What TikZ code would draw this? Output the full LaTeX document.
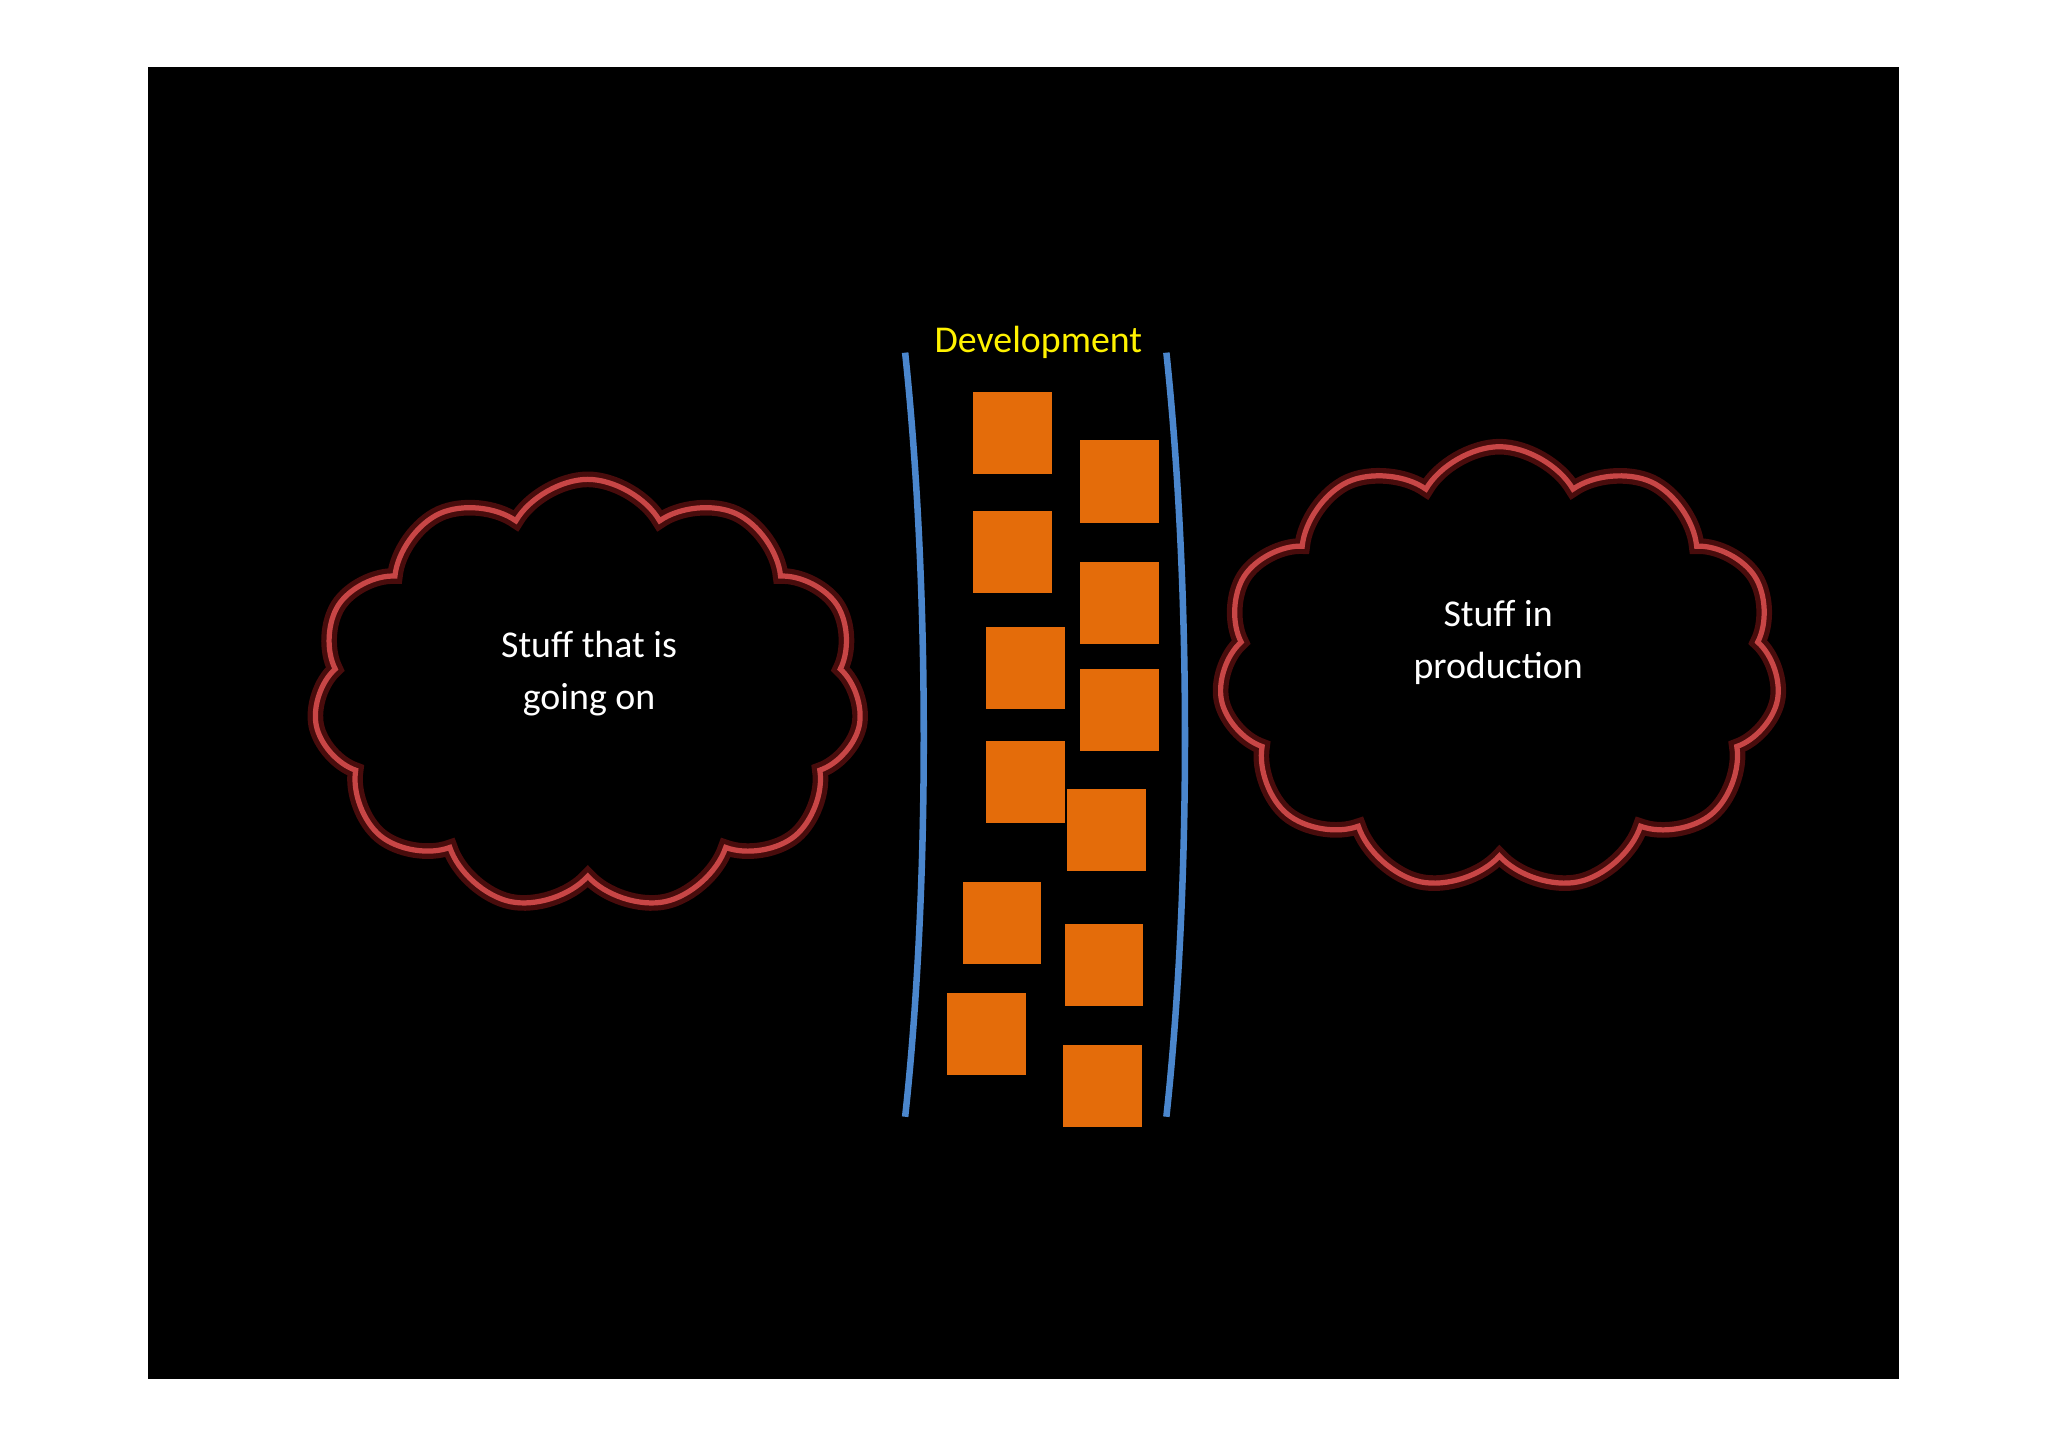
\documentclass[tikz,border=0pt]{standalone}
\usepackage{fontspec}
\setmainfont{Carlito}
\usetikzlibrary{shapes.symbols}
\definecolor{blu}{RGB}{74,134,205}
\definecolor{org}{RGB}{228,108,10}
\definecolor{cl}{RGB}{200,70,70}
\definecolor{glow}{RGB}{120,20,20}
\begin{document}
\begin{tikzpicture}[x=1pt,y=-1pt,
  sq/.style={fill=org,draw=none,minimum width=60pt,minimum height=63pt,inner sep=0,anchor=north west},
  rail/.style={draw=blu,line width=5pt},
  cloudglow/.style={cloud,cloud puffs=11,cloud puff arc=120,draw=glow,line width=12pt,opacity=0.6},
  cloudline/.style={cloud,cloud puffs=11,cloud puff arc=120,draw=cl,line width=4pt},
  lbl/.style={text=white,font=\fontsize{29}{40}\selectfont,align=center}]
\useasboundingbox (0,0) rectangle (1568,1108);
\fill[white] (0,0) rectangle (1568,1108);
\fill[black] (113,51) rectangle (1454,1056);
% clouds
\node[cloudglow,minimum width=420pt,minimum height=330pt] (lcg) at (450,532) {};
\node[cloudline,minimum width=420pt,minimum height=330pt] (lc) at (450,532) {};
\node[cloudglow,minimum width=430pt,minimum height=340pt] (rcg) at (1148,512) {};
\node[cloudline,minimum width=430pt,minimum height=340pt] (rc) at (1148,512) {};
\node[lbl] (lt) at (451,516) {Stuff that is\\going on};
\node[lbl] (rt) at (1147,492) {Stuff in\\production};
% rails
\coordinate (l1) at (693,270); \coordinate (l2) at (693,855);
\coordinate (r1) at (893,270); \coordinate (r2) at (893,855);
\draw[rail] (l1) .. controls (712,450) and (712,680) .. (l2);
\draw[rail] (r1) .. controls (912,450) and (912,680) .. (r2);
\node[text=yellow,font=\fontsize{29}{34}\selectfont] (dev) at (795,262) {Development};
% squares
\foreach \x/\y [count=\i] in {745/300,827/337,745/391,827/430,755/480,827/512,755/567,817/604,737/675,815/707,725/760,814/800}
  \node[sq] (s\i) at (\x,\y) {};
\end{tikzpicture}
\end{document}
